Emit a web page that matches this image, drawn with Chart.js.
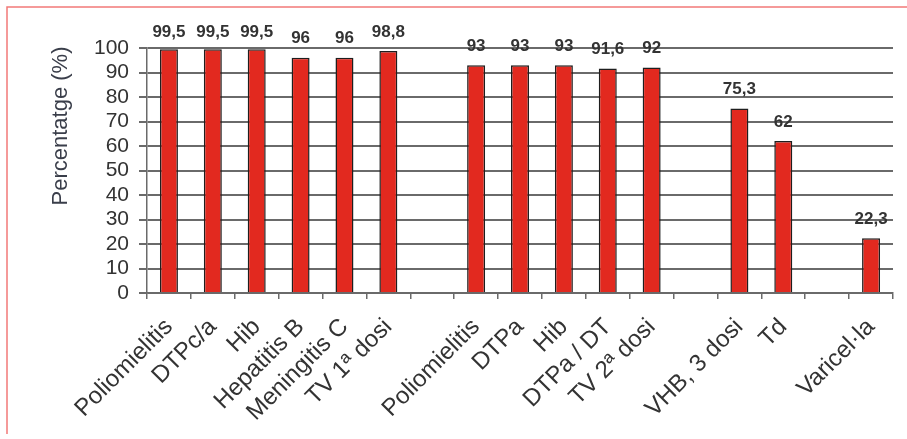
<!DOCTYPE html>
<html>
<head>
<meta charset="utf-8">
<script src="https://cdn.jsdelivr.net/npm/chart.js@4/dist/chart.umd.min.js"></script>
<style>
  html, body { margin: 0; padding: 0; background: #ffffff; }
  #wrap { width: 907px; height: 439px; position: relative; background: #ffffff; }
</style>
</head>
<body>
<div id="wrap"><canvas id="chart" width="907" height="439"></canvas></div>
<script>
// Vaccine coverage by dose; empty labels separate the groups
const categories = [
  'Poliomielitis', 'DTPc/a', 'Hib', 'Hepatitis B', 'Meningitis C', 'TV 1ª dosi',
  '',
  'Poliomielitis', 'DTPa', 'Hib', 'DTPa / DT', 'TV 2ª dosi',
  '',
  'VHB, 3 dosi', 'Td',
  '',
  'Varicel·la'
];
const coverage = [
  99.5, 99.5, 99.5, 96, 96, 98.8,
  null,
  93, 93, 93, 91.6, 92,
  null,
  75.3, 62,
  null,
  22.3
];
const yTicks = [0, 10, 20, 30, 40, 50, 60, 70, 80, 90, 100];
const yTitle = 'Percentatge (%)';

const FONT = '"Liberation Sans", Arial, Helvetica, sans-serif';
const GRID = '#6a6a6a';
const TEXT = '#333333';

// Light red frame along the top and left edges, plus the rotated y-axis title
const decorPlugin = {
  id: 'decor',
  afterDraw(chart) {
    const ctx = chart.ctx;
    ctx.save();
    ctx.strokeStyle = '#f27a78';
    ctx.lineWidth = 1.5;
    ctx.beginPath();
    ctx.moveTo(7, 434);
    ctx.lineTo(7, 7);
    ctx.lineTo(chart.width, 7);
    ctx.stroke();

    ctx.translate(61, 126);
    ctx.rotate(-Math.PI / 2);
    ctx.font = '22px ' + FONT;
    ctx.fillStyle = '#3a3e4a';
    ctx.textAlign = 'center';
    ctx.textBaseline = 'middle';
    ctx.fillText(yTitle, 0, 0);
    ctx.restore();
  }
};

// Value labels above each bar, decimal comma
const valuePlugin = {
  id: 'barValues',
  afterDatasetsDraw(chart) {
    const ctx = chart.ctx;
    const meta = chart.getDatasetMeta(0);
    ctx.save();
    ctx.font = 'bold 17px ' + FONT;
    ctx.fillStyle = TEXT;
    ctx.textAlign = 'center';
    ctx.textBaseline = 'middle';
    meta.data.forEach((bar, i) => {
      const v = coverage[i];
      if (v === null || v === undefined) return;
      const y = Math.max(bar.y - 19, 32);
      ctx.fillText(String(v).replace('.', ','), bar.x, y);
    });
    ctx.restore();
  }
};

new Chart(document.getElementById('chart'), {
  type: 'bar',
  data: {
    labels: categories,
    datasets: [{
      data: coverage,
      backgroundColor: '#e2291f',
      borderColor: '#1e1e1e',
      borderWidth: 1.5,
      barPercentage: 0.41,
      categoryPercentage: 1.0
    }]
  },
  options: {
    responsive: false,
    animation: false,
    layout: { padding: { top: 48, right: 14, left: 0, bottom: 0 } },
    plugins: {
      legend: { display: false },
      tooltip: { enabled: false }
    },
    scales: {
      x: {
        afterFit(scale) { scale.height = 146; },
        grid: {
          offset: true,
          drawOnChartArea: false,
          tickLength: 6,
          color: GRID,
          lineWidth: 1.5
        },
        border: { color: GRID, width: 1.5 },
        ticks: {
          autoSkip: false,
          minRotation: 45,
          maxRotation: 45,
          padding: 14,
          color: TEXT,
          font: { family: FONT, size: 24 }
        }
      },
      y: {
        min: 0,
        max: 100,
        afterFit(scale) { scale.width = 147; },
        afterBuildTicks(scale) { scale.ticks = yTicks.map(v => ({ value: v })); },
        grid: {
          color: GRID,
          lineWidth: 2,
          tickLength: 8
        },
        border: { color: GRID, width: 1.5 },
        ticks: {
          autoSkip: false,
          padding: 10,
          color: TEXT,
          font: { family: FONT, size: 21 }
        }
      }
    }
  },
  plugins: [decorPlugin, valuePlugin]
});
</script>
</body>
</html>
